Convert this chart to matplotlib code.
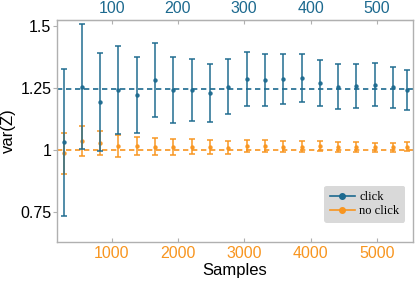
import matplotlib
matplotlib.use("Agg")
import matplotlib.pyplot as plt
from matplotlib.lines import Line2D

samples = [276, 552, 828, 1104, 1380, 1656, 1932, 2208, 2484, 2760,
           3036, 3312, 3588, 3864, 4140, 4416, 4692, 4968, 5244, 5460]
click_mean = [1.03, 1.256, 1.195, 1.242, 1.222, 1.283, 1.242, 1.242, 1.231, 1.256,
              1.287, 1.283, 1.287, 1.291, 1.272, 1.256, 1.258, 1.264, 1.253, 1.242]
click_err = [0.298, 0.253, 0.198, 0.177, 0.155, 0.149, 0.133, 0.125, 0.118, 0.113,
             0.110, 0.105, 0.101, 0.098, 0.093, 0.090, 0.088, 0.086, 0.082, 0.079]
noclick_mean = [0.987, 1.036, 1.028, 1.016, 1.016, 1.013, 1.013, 1.013, 1.011, 1.009,
                1.016, 1.017, 1.013, 1.013, 1.016, 1.011, 1.011, 1.011, 1.011, 1.013]
noclick_err = [0.083, 0.062, 0.050, 0.044, 0.036, 0.035, 0.032, 0.030, 0.029, 0.027,
               0.025, 0.024, 0.022, 0.021, 0.020, 0.020, 0.019, 0.018, 0.018, 0.018]
click_ref = 1.247
noclick_ref = 1.0
bottom_ticks = [1000, 2000, 3000, 4000, 5000]
top_ticks = [100, 200, 300, 400, 500]
y_ticks = [0.75, 1.0, 1.25, 1.5]
y_ticklabels = ["0.75", "1", "1.25", "1.5"]

BLUE = "#1d6a8f"
ORANGE = "#f8951f"
GREY = "#b0b0b0"

plt.rcParams['font.family'] = ['Liberation Sans', 'DejaVu Sans']

fig = plt.figure(figsize=(4.15, 2.85), dpi=100)
ax = fig.add_axes([0.137, 0.151, 0.858, 0.779])

ax.axhline(click_ref, color=BLUE, ls=(0, (3.2, 2.2)), lw=1.2, zorder=1)
ax.axhline(noclick_ref, color=ORANGE, ls=(0, (3.2, 2.2)), lw=1.2, zorder=1)

ax.errorbar(samples, noclick_mean, yerr=noclick_err, fmt='o', ms=2.2,
            color=ORANGE, ecolor=ORANGE, elinewidth=1.2, capsize=2, capthick=1.2,
            zorder=2, alpha=0.9)
ax.errorbar(samples, click_mean, yerr=click_err, fmt='o', ms=2.2,
            color=BLUE, ecolor=BLUE, elinewidth=1.2, capsize=2, capthick=1.2,
            zorder=3, alpha=0.9)

ax.set_xlim(175, 5543)
ax.set_ylim(0.628, 1.525)

ax.set_yticks(y_ticks)
ax.set_yticklabels(y_ticklabels)
ax.set_xticks(bottom_ticks)

for s in ax.spines.values():
    s.set_color(GREY)
    s.set_linewidth(1.0)

ax.tick_params(axis='y', direction='out', length=3, color=GREY, labelsize=11.5, pad=1)
ax.tick_params(axis='x', direction='in', length=3, color=GREY, labelsize=11.5,
               labelcolor=ORANGE, pad=3)

top = ax.secondary_xaxis('top', functions=(lambda x: x / 10.0, lambda x: x * 10.0))
top.set_xticks(top_ticks)
top.tick_params(direction='in', length=3, color=GREY, labelsize=11.5,
                labelcolor=BLUE, pad=3)
top.spines['top'].set_color(GREY)

ax.set_xlabel("Samples", fontsize=12, labelpad=1)
ax.set_ylabel("var(Z)", fontsize=12, labelpad=3)

handles = [Line2D([0], [0], color=BLUE, marker='o', ms=4, lw=1.2),
           Line2D([0], [0], color=ORANGE, marker='o', ms=4, lw=1.2)]
leg = ax.legend(handles, ["click", "no click"], loc='lower right',
                bbox_to_anchor=(0.978, 0.086), frameon=True, fancybox=True,
                prop={'family': 'Liberation Serif', 'size': 9},
                handlelength=2.0, handletextpad=0.35, borderpad=0.45,
                labelspacing=0.15, borderaxespad=0)
leg.get_frame().set_facecolor("#d9d9d9")
leg.get_frame().set_edgecolor("none")
leg.get_frame().set_alpha(1)

fig.savefig("out.png", dpi=100)
